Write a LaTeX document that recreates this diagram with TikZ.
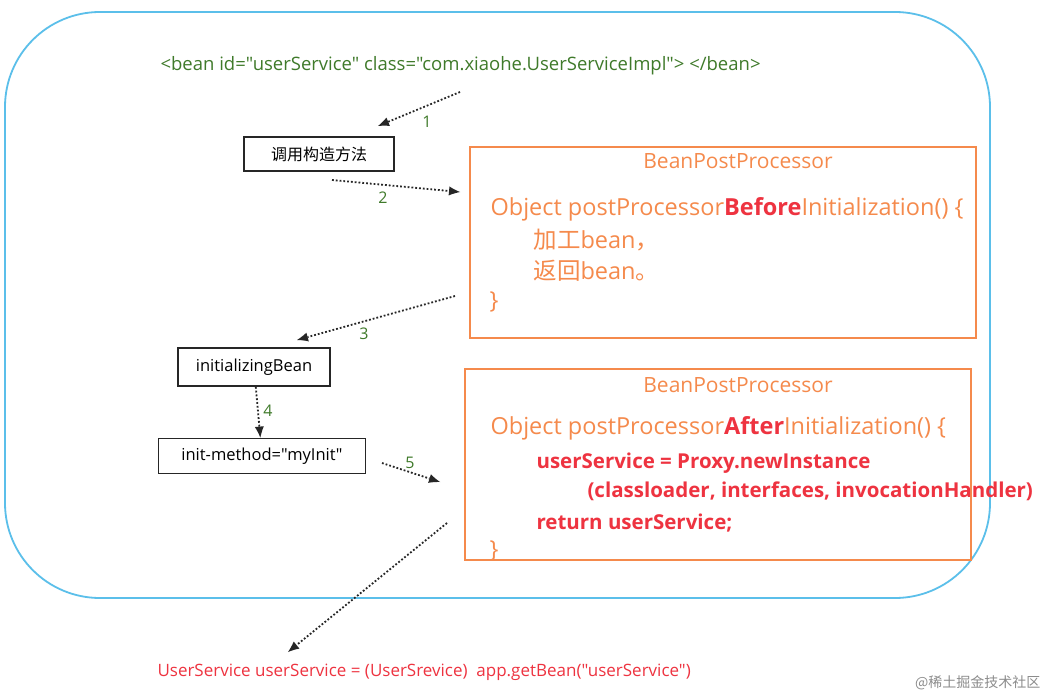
\documentclass[tikz,border=0pt]{standalone}
\usepackage{fontspec}
\setmainfont{Open Sans}[Ligatures=TeXOff]
\newfontfamily\cjk{Noto Sans CJK SC}
\usetikzlibrary{arrows.meta}
\definecolor{sky}{HTML}{5BBFEA}
\definecolor{org}{HTML}{F58A4C}
\definecolor{rd}{HTML}{EE3340}
\definecolor{gr}{HTML}{3F7A2A}
\newcommand\qq{"}
\begin{document}
\begin{tikzpicture}[x=1pt,y=-1pt,
  box/.style={draw=black!85,line width=1.8pt,minimum height=34pt,inner sep=0pt,font=\fontsize{16.5}{18}\selectfont},
  ob/.style={draw=org,line width=1.8pt},
  arr/.style={line width=1.8pt,dotted,black!85,-{Latex[length=11pt,width=9pt,line width=0pt,fill=black!85]}},
  lab/.style={text=gr,font=\fontsize{16}{18}\selectfont},
  ot/.style={text=org,anchor=west,font=\fontsize{23.5}{26}\selectfont},
  rt/.style={text=rd,anchor=west,font=\fontsize{20.5}{22}\selectfont\bfseries}]
\useasboundingbox[fill=white] (0,0) rectangle (1050,698);
\draw[sky,line width=1.8pt,rounded corners=95pt] (5,12) rectangle (990,598);
\node[text=gr,anchor=west,font=\fontsize{18.5}{20}\selectfont] (bean) at (157,66) {<bean id=\qq userService\qq{} class=\qq com.xiaohe.UserServiceImpl\qq>\ </bean>};
\coordinate (s1) at (460,92);
\node[box,minimum width=150pt,font=\cjk\fontsize{16}{18}\selectfont] (ctor) at (319,154) {调用构造方法};
\draw[arr] (s1) -- (378,126);
\node[lab] at (427,122) {1};
\draw[ob] (470,147) rectangle (976,338);
\node[text=org,font=\fontsize{21}{22}\selectfont] (bp1) at (738,161) {BeanPostProcessor};
\node[ot] (o1) at (487,209) {Object postProcessor\textcolor{rd}{\bfseries Before}Initialization() \{};
\node[ot] (o2) at (530,240) {{\cjk 加工}bean{\cjk ，}};
\node[ot] (o3) at (530,271) {{\cjk 返回}bean{\cjk 。}};
\node[ot] (o4) at (486,302) {\}};
\coordinate (t2) at (460,192);
\draw[arr] (332,180) -- (t2);
\node[lab] at (383,198) {2};
\node[box,minimum width=152pt,minimum height=38pt] (ib) at (254,367) {initializingBean};
\draw[arr] (455,296) -- (297,340);
\node[lab] at (364,334) {3};
\node[box,minimum width=207pt,minimum height=35pt] (im) at (262,456) {init-method=\qq myInit\qq};
\draw[arr] (ib) -- (im);
\node[lab] at (268,411) {4};
\draw[ob] (465,369) rectangle (971,560);
\node[text=org,font=\fontsize{21}{22}\selectfont] (bp2) at (738,385) {BeanPostProcessor};
\node[ot] (p1) at (487,428) {Object postProcessor\textcolor{rd}{\bfseries After}Initialization() \{};
\node[rt] (p2) at (533,463) {userService = Proxy.newInstance};
\node[rt] (p3) at (584,491) {(classloader, interfaces, invocationHandler)};
\node[rt] (p4) at (533,523) {return userService;};
\node[ot] (p5) at (486,551) {\}};
\coordinate (t5) at (440,482);
\draw[arr] (382,463) -- (t5);
\node[lab] at (410,463) {5};
\node[text=rd,anchor=west,font=\fontsize{17}{18}\selectfont] (get) at (154,672) {UserService userService = (UserSrevice)\ \ app.getBean(\qq userService\qq)};
\draw[arr] (447,523) -- (288,652);
\node[text=black!45,anchor=east,font=\cjk\fontsize{14}{16}\selectfont] (wm) at (1044,683) {@稀土掘金技术社区};
\end{tikzpicture}
\end{document}
